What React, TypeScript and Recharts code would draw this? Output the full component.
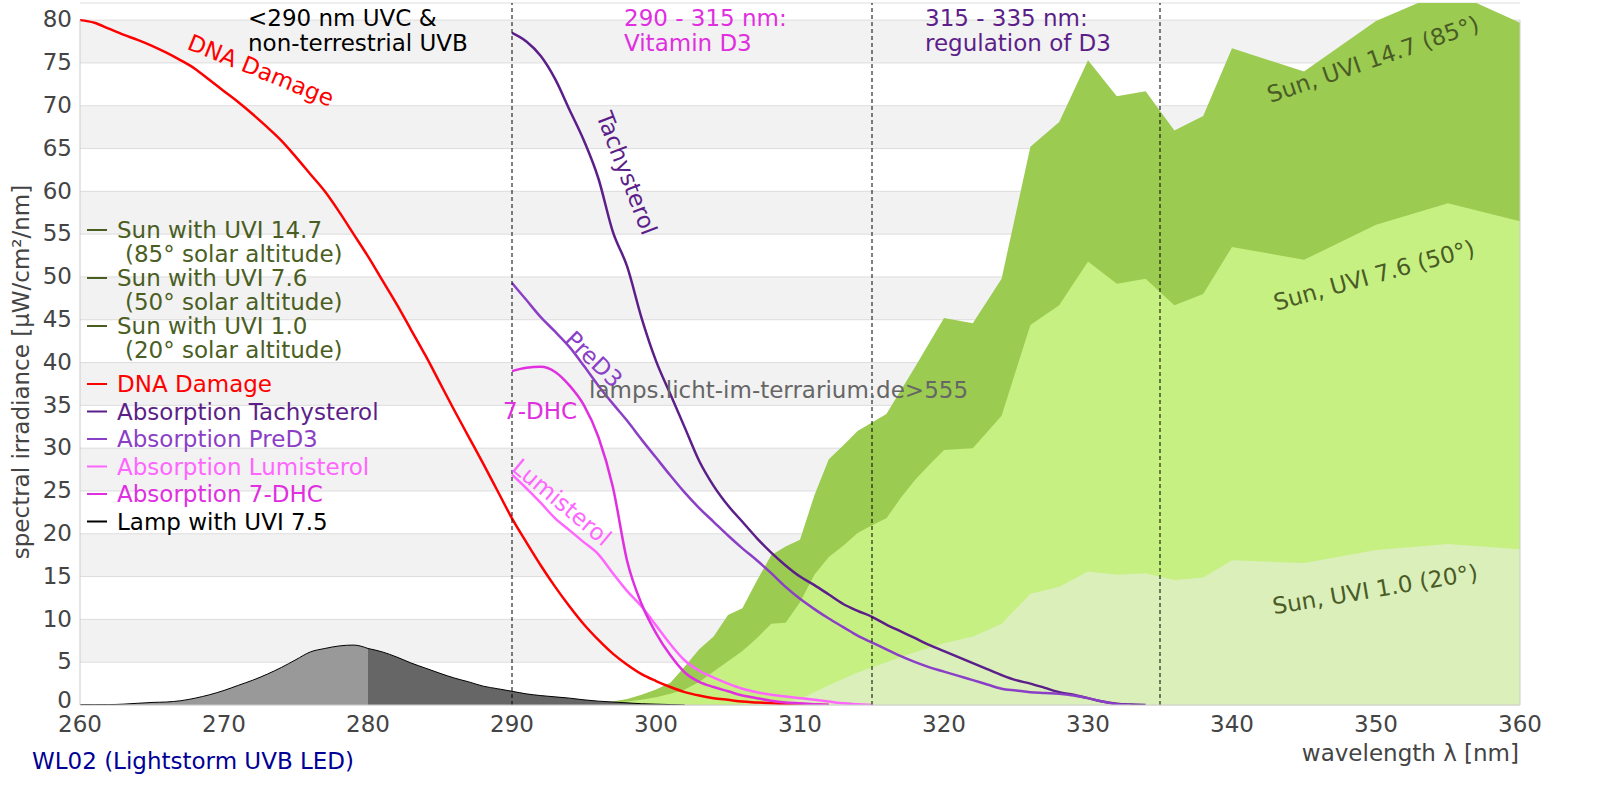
import {
  Area,
  CartesianGrid,
  ComposedChart,
  Line,
  ReferenceLine,
  XAxis,
  YAxis,
} from "recharts";

type Pt = [number, number];

// wavelength [nm], spectral irradiance / scaled absorption
const lamp: Pt[] = [
  [260, 0.05], [261, 0.05], [262, 0.05], [263, 0.1], [264, 0.2], [265, 0.3],
  [266, 0.35], [267, 0.5], [268, 0.8], [269, 1.2], [270, 1.7], [271, 2.3],
  [272, 2.9], [273, 3.6], [274, 4.4], [275, 5.3], [276, 6.2], [277, 6.6],
  [278, 6.9], [279, 7.0], [280, 6.6], [281, 6.2], [282, 5.6], [283, 4.9],
  [284, 4.3], [285, 3.7], [286, 3.15], [287, 2.7], [288, 2.2], [289, 1.9],
  [290, 1.6], [291, 1.3], [292, 1.1], [293, 0.95], [294, 0.8], [295, 0.6],
  [296, 0.45], [297, 0.35], [298, 0.25], [299, 0.15], [300, 0.1], [301, 0.05],
  [302, 0],
];

const sun147: Pt[] = [
  [293, 0], [295, 0.1], [297, 0.4], [298, 0.7], [299, 1.2], [300, 1.8],
  [301, 2.6], [302, 4.5], [303, 6.5], [304, 8.0], [305, 10.5], [306, 11.3],
  [307, 14.5], [308, 17.5], [309, 18.5], [310, 19.3], [311, 24.5], [312, 28.7],
  [313, 30.3], [314, 32.0], [315, 33.0], [316, 34.0], [318, 39.5], [320, 45.2],
  [322, 44.6], [324, 49.8], [326, 65.2], [328, 68.1], [330, 75.3], [332, 71.1],
  [334, 71.7], [336, 67.1], [338, 68.8], [340, 76.7], [345, 74.0], [350, 79.9],
  [355, 83.5], [360, 79.7],
];

const sun76: Pt[] = [
  [294, 0], [296, 0.2], [298, 0.4], [299, 0.6], [300, 0.9], [301, 1.3],
  [302, 1.8], [303, 2.7], [304, 3.9], [305, 5.1], [306, 6.3], [307, 7.8],
  [308, 9.5], [309, 9.6], [310, 12.0], [311, 15.2], [312, 17.3], [313, 18.6],
  [314, 20.1], [315, 21.0], [316, 21.8], [317, 24.2], [318, 26.3], [319, 28.1],
  [320, 29.8], [322, 30.0], [324, 33.8], [326, 44.4], [328, 46.7], [330, 51.8],
  [332, 49.2], [334, 49.8], [336, 46.7], [338, 48.0], [340, 53.5], [345, 52.0],
  [350, 56.1], [355, 58.6], [360, 56.5],
];

const sun10: Pt[] = [
  [306, 0], [308, 0.2], [310, 0.7], [312, 2.3], [314, 3.8], [316, 5.0],
  [318, 6.2], [320, 7.2], [322, 8.0], [324, 9.5], [326, 13.0], [328, 13.8],
  [330, 15.6], [332, 15.2], [334, 15.4], [336, 14.6], [338, 14.9], [340, 16.9],
  [345, 16.6], [350, 18.1], [355, 18.8], [360, 18.2],
];

const dnaDamage: Pt[] = [
  [260, 80], [261, 79.7], [262, 79.0], [263, 78.3], [264, 77.7], [265, 77.0],
  [266, 76.2], [267, 75.3], [268, 74.3], [269, 73.0], [270, 71.7], [271, 70.4],
  [272, 69.0], [273, 67.5], [274, 65.9], [275, 64.0], [276, 62.0], [277, 60.0],
  [278, 57.6], [279, 55.0], [280, 52.4], [281, 49.6], [282, 46.8], [283, 43.8],
  [284, 40.8], [285, 37.6], [286, 34.4], [287, 31.3], [288, 28.2], [289, 25.0],
  [290, 21.8], [291, 19.0], [292, 16.3], [293, 13.8], [294, 11.5], [295, 9.4],
  [296, 7.6], [297, 6.0], [298, 4.7], [299, 3.6], [300, 2.8], [301, 2.1],
  [302, 1.5], [303, 1.1], [304, 0.8], [305, 0.6], [306, 0.4], [307, 0.3],
  [308, 0.2], [309, 0.1], [310, 0.05], [311, 0.02], [312, 0],
];

const tachysterol: Pt[] = [
  [290, 78.5], [291, 77.5], [292, 75.8], [293, 73.1], [294, 69.5], [295, 65.9],
  [296, 61.5], [297, 55.3], [298, 51.2], [299, 45.2], [300, 40.2], [301, 36.3],
  [302, 32.4], [303, 28.5], [304, 25.6], [305, 23.3], [306, 21.4], [307, 19.5],
  [308, 17.8], [309, 16.3], [310, 15.0], [311, 14.0], [312, 12.9], [313, 11.8],
  [314, 11.0], [315, 10.3], [316, 9.4], [317, 8.6], [318, 7.8], [319, 7.0],
  [320, 6.3], [321, 5.6], [322, 4.9], [323, 4.2], [324, 3.5], [325, 2.9],
  [326, 2.5], [327, 2.0], [328, 1.5], [329, 1.2], [330, 0.8], [331, 0.4],
  [332, 0.15], [333, 0.05], [334, 0],
];

const preD3: Pt[] = [
  [290, 49.3], [291, 47.3], [292, 45.3], [293, 43.6], [294, 41.8], [295, 39.6],
  [296, 37.3], [297, 35.2], [298, 33.2], [299, 31.0], [300, 28.9], [301, 26.8],
  [302, 24.8], [303, 23.0], [304, 21.4], [305, 19.8], [306, 18.3], [307, 16.9],
  [308, 15.4], [309, 13.8], [310, 12.4], [311, 11.2], [312, 10.1], [313, 9.1],
  [314, 8.1], [315, 7.3], [316, 6.5], [317, 5.7], [318, 5.0], [319, 4.4],
  [320, 3.9], [321, 3.4], [322, 2.9], [323, 2.4], [324, 1.9], [325, 1.7],
  [326, 1.5], [327, 1.4], [328, 1.3], [329, 1.1], [330, 0.8], [331, 0.4],
  [332, 0.1], [333, 0],
];

const lumisterol: Pt[] = [
  [290, 26.9], [291, 25.3], [292, 23.6], [293, 21.8], [294, 20.4], [295, 19.0],
  [296, 17.6], [297, 15.4], [298, 13.3], [299, 11.5], [300, 9.3], [301, 7.1],
  [302, 5.2], [303, 4.0], [304, 3.2], [305, 2.5], [306, 1.9], [307, 1.5],
  [308, 1.2], [309, 1.0], [310, 0.8], [311, 0.6], [312, 0.4], [313, 0.2],
  [314, 0.1], [315, 0],
];

const dhc7: Pt[] = [
  [290, 39.0], [291, 39.4], [292, 39.5], [293, 38.9], [294, 37.3], [295, 35.0],
  [296, 31.3], [297, 25.5], [298, 16.8], [299, 11.8], [300, 8.4], [301, 5.8],
  [302, 3.8], [303, 2.7], [304, 2.1], [305, 1.6], [306, 1.1], [307, 0.8],
  [308, 0.5], [309, 0.3], [310, 0.2], [311, 0.1], [312, 0],
];

const xTicks = [260, 270, 280, 290, 300, 310, 320, 330, 340, 350, 360];
const yTicks = [0, 5, 10, 15, 20, 25, 30, 35, 40, 45, 50, 55, 60, 65, 70, 75, 80];
const regionBounds = [290, 315, 335];

const legendItems = [
  { text: "Sun with UVI 14.7", sub: "(85° solar altitude)", color: "#4a5e23" },
  { text: "Sun with UVI 7.6", sub: "(50° solar altitude)", color: "#4a5e23" },
  { text: "Sun with UVI 1.0", sub: "(20° solar altitude)", color: "#4a5e23" },
  { text: "DNA Damage", color: "#ff0000" },
  { text: "Absorption Tachysterol", color: "#5c1f8a" },
  { text: "Absorption PreD3", color: "#8b3fc7" },
  { text: "Absorption Lumisterol", color: "#ff66ff" },
  { text: "Absorption 7-DHC", color: "#e02fe0" },
  { text: "Lamp with UVI 7.5", color: "#000000" },
];

const series: Record<string, Pt[]> = {
  sun147,
  sun76,
  sun10,
  lampLight: lamp.filter(([w]) => w <= 280),
  lampDark: lamp.filter(([w]) => w >= 280),
  dnaDamage,
  tachysterol,
  preD3,
  lumisterol,
  dhc7,
};

const wavelengths = Array.from(
  new Set(Object.values(series).flatMap((s) => s.map((p) => p[0]))),
).sort((a, b) => a - b);

const rows = wavelengths.map((wl) => {
  const row: Record<string, number | null> = { wl };
  for (const [key, pts] of Object.entries(series)) {
    const hit = pts.find((p) => p[0] === wl);
    row[key] = hit ? hit[1] : null;
  }
  return row;
});

const FONT = '"DejaVu Sans", Verdana, sans-serif';

// y tick; the bottom "0" is lifted a little so it clears the "260" below it
function YTick({ x, y, payload }: any) {
  const lift = payload.value === 0 ? -5 : -1;
  return (
    <text x={x} y={y + lift} dy="0.36em" textAnchor="end" fill="#444444" fontSize={23}>
      {payload.value}
    </text>
  );
}

function Annotations() {
  const legendRows = [230, 278, 326];
  const lowerRows = [384, 411.5, 439, 466.5, 494, 521.5];
  return (
    <svg
      width={1600}
      height={800}
      style={{ position: "absolute", left: 0, top: 0, pointerEvents: "none" }}
      fontFamily={FONT}
      fontSize={23}
    >
      {legendItems.map((item, i) => {
        const y = i < 3 ? legendRows[i] : lowerRows[i - 3];
        return (
          <g key={item.text}>
            <line x1={87} x2={107} y1={y} y2={y} stroke={item.color} strokeWidth={2} />
            <text x={117} y={y} dy="0.36em" fill={item.color}>
              {item.text}
            </text>
            {item.sub && (
              <text x={125} y={y + 23.5} dy="0.36em" fill={item.color}>
                {item.sub}
              </text>
            )}
          </g>
        );
      })}

      <text x={248} y={26} fill="#000">&lt;290 nm UVC &amp;</text>
      <text x={248} y={50.5} fill="#000">non-terrestrial UVB</text>
      <text x={624} y={26} fill="#e02fe0">290 - 315 nm:</text>
      <text x={624} y={50.5} fill="#e02fe0">Vitamin D3</text>
      <text x={925} y={26} fill="#5c1f8a">315 - 335 nm:</text>
      <text x={925} y={50.5} fill="#5c1f8a">regulation of D3</text>

      <text transform="translate(261,70) rotate(22)" textAnchor="middle" dy="0.36em" fill="#ff0000">
        DNA Damage
      </text>
      <text transform="translate(627,173) rotate(69)" textAnchor="middle" dy="0.36em" fill="#5c1f8a">
        Tachysterol
      </text>
      <text transform="translate(594,359) rotate(44)" textAnchor="middle" dy="0.36em" fill="#8b3fc7">
        PreD3
      </text>
      <text x={540} y={411} textAnchor="middle" dy="0.36em" fill="#e02fe0">
        7-DHC
      </text>
      <text transform="translate(562,502) rotate(40)" textAnchor="middle" dy="0.36em" fill="#ff66ff">
        Lumisterol
      </text>
      <text x={589} y={390} dy="0.36em" fill="#666666">
        lamps.licht-im-terrarium.de&gt;555
      </text>

      <text transform="translate(1373,59) rotate(-19)" textAnchor="middle" dy="0.36em" fill="#4a5b26">
        Sun, UVI 14.7 (85°)
      </text>
      <text transform="translate(1374,275) rotate(-15.5)" textAnchor="middle" dy="0.36em" fill="#4a5b26">
        Sun, UVI 7.6 (50°)
      </text>
      <text transform="translate(1375,589) rotate(-9.5)" textAnchor="middle" dy="0.36em" fill="#4a5b26">
        Sun, UVI 1.0 (20°)
      </text>

      <text transform="translate(21,372) rotate(-90)" textAnchor="middle" dy="0.36em" fill="#444444">
        spectral irradiance [µW/cm²/nm]
      </text>
      <text x={1519} y={753} textAnchor="end" dy="0.36em" fill="#444444">
        wavelength λ [nm]
      </text>
      <text x={32} y={761} dy="0.36em" fill="#000096">
        WL02 (Lightstorm UVB LED)
      </text>
    </svg>
  );
}

export default function App() {
  return (
    <div
      style={{
        position: "absolute",
        left: 0,
        top: 0,
        width: 1600,
        height: 800,
        background: "#ffffff",
        fontFamily: FONT,
      }}
    >
      <ComposedChart
        width={1600}
        height={800}
        data={rows}
        margin={{ top: 3, right: 80, bottom: 65, left: 20 }}
      >
        <CartesianGrid
          vertical={false}
          stroke="#dddddd"
          horizontalFill={["#ffffff", "#f2f2f2"]}
          fillOpacity={1}
        />
        <XAxis
          dataKey="wl"
          type="number"
          domain={[260, 360]}
          ticks={xTicks}
          height={30}
          axisLine={{ stroke: "#cccccc" }}
          tickLine={false}
          tick={{ fill: "#444444", fontSize: 23, dy: 3 }}
          interval={0}
        />
        <YAxis
          type="number"
          domain={[0, 82]}
          allowDataOverflow
          ticks={yTicks}
          width={60}
          axisLine={false}
          tickLine={false}
          tick={<YTick />}
          interval={0}
        />
        <Area dataKey="sun147" type="linear" fill="#9bcb50" fillOpacity={1} stroke="none" connectNulls isAnimationActive={false} />
        <Area dataKey="sun76" type="linear" fill="#c6f081" fillOpacity={1} stroke="none" connectNulls isAnimationActive={false} />
        <Area dataKey="sun10" type="linear" fill="#daefb9" fillOpacity={1} stroke="none" connectNulls isAnimationActive={false} />
        <Area dataKey="lampLight" type="monotone" fill="#999999" fillOpacity={1} stroke="#000000" strokeWidth={1} connectNulls isAnimationActive={false} />
        <Area dataKey="lampDark" type="monotone" fill="#666666" fillOpacity={1} stroke="#000000" strokeWidth={1} connectNulls isAnimationActive={false} />
        <Line dataKey="dnaDamage" type="monotone" stroke="#ff0000" strokeWidth={2.5} dot={false} activeDot={false} connectNulls isAnimationActive={false} />
        <Line dataKey="tachysterol" type="monotone" stroke="#5c1f8a" strokeWidth={2.5} dot={false} activeDot={false} connectNulls isAnimationActive={false} />
        <Line dataKey="preD3" type="monotone" stroke="#8b3fc7" strokeWidth={2.5} dot={false} activeDot={false} connectNulls isAnimationActive={false} />
        <Line dataKey="lumisterol" type="monotone" stroke="#ff66ff" strokeWidth={2.5} dot={false} activeDot={false} connectNulls isAnimationActive={false} />
        <Line dataKey="dhc7" type="monotone" stroke="#e02fe0" strokeWidth={2.5} dot={false} activeDot={false} connectNulls isAnimationActive={false} />
        <ReferenceLine segment={[{ x: 260, y: 0 }, { x: 260, y: 80 }]} stroke="#cccccc" />
        <ReferenceLine segment={[{ x: 360, y: 0 }, { x: 360, y: 80 }]} stroke="#cccccc" />
        {regionBounds.map((x) => (
          <ReferenceLine key={x} x={x} stroke="#000000" strokeDasharray="4 3" />
        ))}
      </ComposedChart>
      <Annotations />
    </div>
  );
}
